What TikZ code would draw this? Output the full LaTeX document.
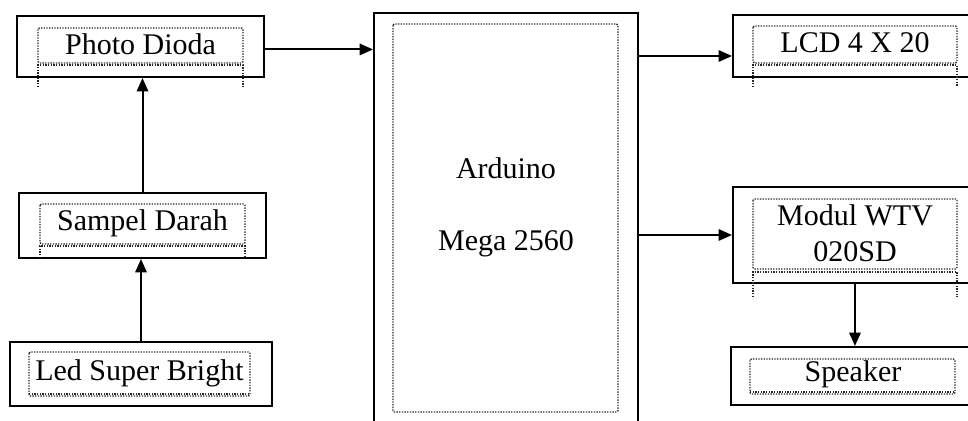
\documentclass[tikz,border=0pt]{standalone}
\usepackage{fontspec}
\setmainfont{Liberation Serif}
\usetikzlibrary{arrows.meta}
\begin{document}
\begin{tikzpicture}[x=0.75pt,y=-0.75pt,
  box/.style={draw=black,line width=1.5pt,fill=none,inner sep=0pt},
  dots/.style={draw=black!85,line width=1.1pt,dash pattern=on 1pt off 1pt,rounded corners=1pt},
  lbl/.style={font=\fontsize{22.5}{27}\selectfont,align=center,inner sep=0pt},
  arr/.style={line width=1.5pt,-{Triangle[length=10pt,width=8.5pt]}}]
\useasboundingbox (0,0) rectangle (968,421);
% outer boxes
\node[box,minimum width=247*0.75pt,minimum height=61*0.75pt] (pd) at (140.5,46.5) {};
\node[box,minimum width=247*0.75pt,minimum height=65*0.75pt] (sd) at (142.5,225.5) {};
\node[box,minimum width=262*0.75pt,minimum height=64*0.75pt] (led) at (141,374) {};
\node[box,minimum width=264*0.75pt,minimum height=437*0.75pt] (ard) at (506,231.5) {};
\node[box,minimum width=257*0.75pt,minimum height=62*0.75pt] (lcd) at (861.5,46) {};
\node[box,minimum width=257*0.75pt,minimum height=96*0.75pt] (wtv) at (861.5,235) {};
\node[box,minimum width=259*0.75pt,minimum height=58*0.75pt] (spk) at (860.5,376) {};
% inner dotted frames
\draw[dots] (38,28) rectangle (243,63);
\draw[dots,rounded corners=0pt] (38,87) -- (38,65) -- (243,65) -- (243,87);
\draw[dots] (40,204) rectangle (245,244);
\draw[dots,rounded corners=0pt] (40,258) -- (40,246) -- (245,246) -- (245,258);
\draw[dots] (29,352) rectangle (250,396);
\draw[dots,rounded corners=0pt] (29,394) -- (250,394);
\draw[dots] (393,24) rectangle (618,412);
\draw[dots] (753,26) rectangle (957,63);
\draw[dots,rounded corners=0pt] (753,87) -- (753,65) -- (957,65) -- (957,87);
\draw[dots] (753,199) rectangle (957,269);
\draw[dots,rounded corners=0pt] (753,297) -- (753,272) -- (957,272) -- (957,297);
\draw[dots] (750,359) rectangle (955,394);
\draw[dots,rounded corners=0pt] (750,392) -- (955,392);
% labels
\node[lbl] (pdt) at (140.5,44) {Photo Dioda};
\node[lbl] (sdt) at (142.5,223) {Sampel Darah};
\node[lbl] (ledt) at (139.5,373) {Led Super Bright};
\node[lbl] (ardt) at (506,207) {Arduino\\[27pt]Mega 2560};
\node[lbl] (lcdt) at (855,43) {LCD 4 X 20};
\node[lbl] (wtvt) at (855,233) {Modul WTV\\020SD};
\node[lbl] (spkt) at (853,374) {Speaker};
% connectors
\draw[arr] ([yshift=-2.2pt]pd.east) -- ([yshift=-2.2pt]pd.east -| ard.west);
\draw[arr] ([yshift=-7.5pt]ard.east |- lcd.west) -- ([yshift=-7.5pt]lcd.west);
\draw[arr] (ard.east |- wtv.west) -- (wtv.west);
\draw[arr] ([xshift=-4.9pt]wtv.south) -- ([xshift=-4.9pt]wtv.south |- spk.north);
\draw[arr] (sd.north) -- (sd.north |- pd.south);
\draw[arr] (led.north) -- (led.north |- sd.south);
\end{tikzpicture}
\end{document}
